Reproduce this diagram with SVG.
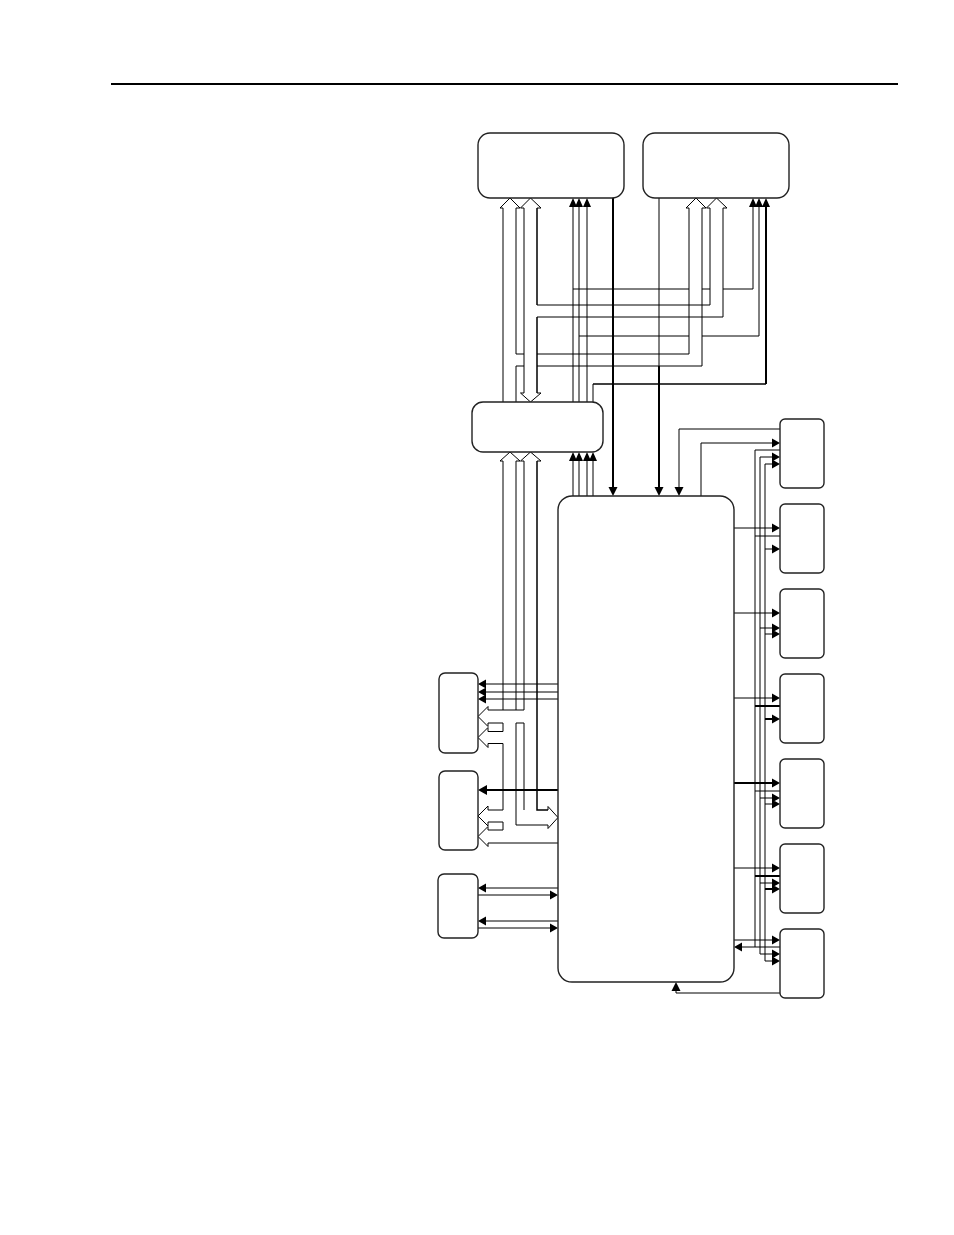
<svg xmlns="http://www.w3.org/2000/svg" width="954" height="1235" viewBox="0 0 954 1235">
<style>
.box{fill:#fff;stroke:#222;stroke-width:1.4}
.ln{stroke:#000;stroke-width:1;fill:none}
.tk{stroke:#000;stroke-width:2;fill:none}
.md{stroke:#000;stroke-width:1.5;fill:none}
.hb{stroke:#000;stroke-width:1;fill:#fff}
.ah{fill:#000;stroke:none}
</style>
<rect width="954" height="1235" fill="#fff"/>
<line x1="111" y1="84" x2="898" y2="84" stroke="#000" stroke-width="2"/>

<g id="connectors">
<path class="ln" d="M573,289H689 M702,289H710 M723,289H753"/>
<path class="ln" d="M579,336H689 M702,336H759"/>
<path class="md" d="M593,384H766"/>
<path class="ln" d="M503,208V402 M516,208V354 M516,366V402"/>
<path class="ln" d="M524,208V393"/>
<path class="md" d="M537,208V305 M537,317V393"/>
<path class="ln" d="M537,305H710V208 M537,317H723V208"/>
<path class="ln" d="M516,354H524 M537,354H689V208 M516,366H524 M537,366H702V208"/>
<path class="hb" d="M503,208H500L510,198L520,208H516"/>
<path class="hb" d="M524,208H520.5L530.5,198L541,208H537"/>
<path class="hb" d="M689,208H686L696,198L706,208H702"/>
<path class="hb" d="M710,208H706.5L716.5,198L727,208H723"/>
<path class="hb" d="M524,393H520.5L530.5,402L541,393H537"/>
<path class="ln" d="M573,205V402 M579,205V402 M587,205V402 M593,384V402"/>
<path class="ln" d="M753,205V289 M759,205V336"/>
<path class="tk" d="M766,205V384"/>
<path class="ah" d="M569,207L573,198L577,207z M575,207L579,198L583,207z M583,207L587,198L591,207z"/>
<path class="ah" d="M749,207L753,198L757,207z M755,207L759,198L763,207z M762,207L766,198L770,207z"/>
<path class="tk" d="M613,198V488"/>
<path class="ah" d="M608.5,487L613,496L617.5,487z"/>
<path class="ln" d="M659,198V366"/>
<path class="tk" d="M659,366V488"/>
<path class="ah" d="M654.5,487L659,496L663.5,487z"/>
<path class="ln" d="M573,460V496 M579,460V496 M587,460V496 M593,460V496"/>
<path class="ah" d="M569,461L573,452L577,461z M575,461L579,452L583,461z M583,461L587,452L591,461z M589,461L593,452L597,461z"/>
<path class="ln" d="M780,429H679V488"/>
<path class="ah" d="M674.5,487L679,496L683.5,487z"/>
<path class="ln" d="M701,496V443H773"/>
<path class="ah" d="M772,438.5L780,443L772,447.5z"/>
<path class="ln" d="M780,450H755V947 M773,457H760V954 M773,464H765V961"/>
<path class="ah" d="M772,452.5L780,457L772,461.5z M772,459.5L780,464L772,468.5z"/>
<path class="ln" d="M734,528H773 M755,536H780 M765,549H773"/>
<path class="ah" d="M772,523.5L780,528L772,532.5z M772,544.5L780,549L772,553.5z"/>
<path class="ln" d="M734,613H773 M760,628H773 M765,634H773"/>
<path class="ah" d="M772,608.5L780,613L772,617.5z M772,623.5L780,628L772,632.5z M772,629.5L780,634L772,638.5z"/>
<path class="ln" d="M734,698H773"/>
<path class="tk" d="M755,706H780 M765,719H773"/>
<path class="ah" d="M772,693.5L780,698L772,702.5z M772,714.5L780,719L772,723.5z"/>
<path class="tk" d="M734,783H773"/>
<path class="ln" d="M755,791H780 M760,798H773 M765,804H773"/>
<path class="ah" d="M772,778.5L780,783L772,787.5z M772,793.5L780,798L772,802.5z M772,799.5L780,804L772,808.5z"/>
<path class="ln" d="M734,868H773 M760,883H773"/>
<path class="tk" d="M755,876H780 M765,889H773"/>
<path class="ah" d="M772,863.5L780,868L772,872.5z M772,878.5L780,883L772,887.5z M772,884.5L780,889L772,893.5z"/>
<path class="ln" d="M734,940H773 M780,947H742 M760,954H773 M765,961H773"/>
<path class="ah" d="M772,935.5L780,940L772,944.5z M742,942.5L734,947L742,951.5z M772,949.5L780,954L772,958.5z M772,956.5L780,961L772,965.5z"/>
<path class="ln" d="M780,993H676V990"/>
<path class="ah" d="M671.5,991L676,982L680.5,991z"/>
<path class="ln" d="M558,888H486 M478,895H550 M558,921H486 M478,928H550"/>
<path class="ah" d="M486,883.5L478,888L486,892.5z M550,890.5L558,895L550,899.5z M486,916.5L478,921L486,925.5z M550,923.5L558,928L550,932.5z"/>
<path class="ln" d="M558,684H486 M558,692H486 M558,699H486"/>
<path class="ah" d="M486,679.5L478,684L486,688.5z M486,687.5L478,692L486,696.5z M486,694.5L478,699L486,703.5z"/>
<path class="tk" d="M558,790H486"/>
<path class="ah" d="M487,785L478,790L487,795z"/>
<path class="hb" d="M503,461H500L510,452L520,461H516"/>
<path class="hb" d="M524,461H520.5L530.5,452L541,461H537"/>
<path class="ln" d="M503,461V710 M503,723V731.5 M503,743.5V810 M503,822V830"/>
<path class="ln" d="M516,461V710 M516,723V825H548"/>
<path class="ln" d="M524,461V710 M524,723V810"/>
<path class="md" d="M537,461V810H548"/>
<path class="ln" d="M488,710H524 M488,723H503 M516,723H524 M488,731.5H503 M488,743.5H503"/>
<path class="hb" d="M488,710V706.5L478,716.5L488,726.5V723"/>
<path class="hb" d="M488,731.5V727.5L478,737.5L488,747.5V743.5"/>
<path class="ln" d="M488,810H503 M488,822H503 M488,830H503 M488,843H558"/>
<path class="hb" d="M488,810V806L478,816L488,826V822"/>
<path class="hb" d="M488,830V826.5L478,836.5L488,846.5V843"/>
<path class="hb" d="M548,810V806.5L558,817.5L548,828.5V825"/>
</g>

<g id="boxA"><rect class="box" x="478" y="133" width="146" height="65" rx="12"/></g>
<g id="boxB"><rect class="box" x="643" y="133" width="146" height="65" rx="12"/></g>
<g id="boxC"><rect class="box" x="472" y="402" width="131" height="50" rx="11"/></g>
<g id="boxD"><rect class="box" x="558" y="496" width="176" height="486" rx="14"/></g>
<g id="boxE"><rect class="box" x="439" y="673" width="39" height="80" rx="6"/></g>
<g id="boxF"><rect class="box" x="439" y="771" width="39" height="79" rx="6"/></g>
<g id="boxG"><rect class="box" x="438" y="874" width="40" height="64" rx="6"/></g>
<g id="boxR1"><rect class="box" x="780" y="419" width="44" height="69" rx="5"/></g>
<g id="boxR2"><rect class="box" x="780" y="504" width="44" height="69" rx="5"/></g>
<g id="boxR3"><rect class="box" x="780" y="589" width="44" height="69" rx="5"/></g>
<g id="boxR4"><rect class="box" x="780" y="674" width="44" height="69" rx="5"/></g>
<g id="boxR5"><rect class="box" x="780" y="759" width="44" height="69" rx="5"/></g>
<g id="boxR6"><rect class="box" x="780" y="844" width="44" height="69" rx="5"/></g>
<g id="boxR7"><rect class="box" x="780" y="929" width="44" height="69" rx="5"/></g>
</svg>
